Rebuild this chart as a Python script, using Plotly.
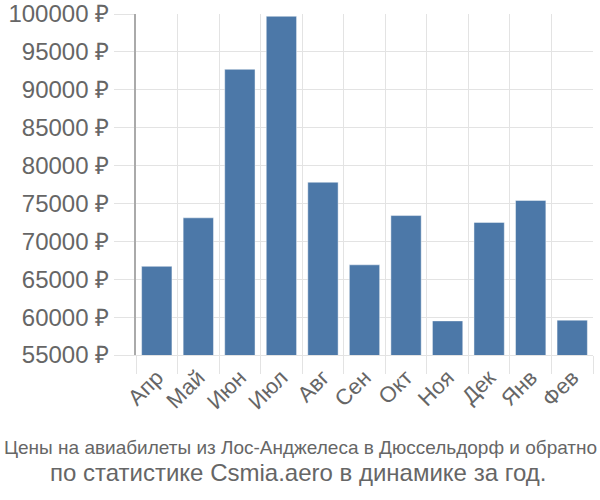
import plotly.graph_objects as go

months = ["Апр", "Май", "Июн", "Июл", "Авг", "Сен", "Окт", "Ноя", "Дек", "Янв", "Фев"]
prices = [66700, 73100, 92700, 99700, 77800, 66900, 73400, 59500, 72500, 75400, 59600]
y_ticks = [55000, 60000, 65000, 70000, 75000, 80000, 85000, 90000, 95000, 100000]
y_tick_labels = [f"{v} ₽" for v in y_ticks]
title_line1 = "Цены на авиабилеты из Лос-Анджелеса в Дюссельдорф и обратно"
title_line2 = "по статистике Csmia.aero в динамике за год."

W, H = 600, 500
ML, MR, MT, MB = 136, 7, 14, 145
plot_w = W - ML - MR
plot_h = H - MT - MB


def px_to_paper_x(px):
    return (px - ML) / plot_w


def px_to_paper_y(py):
    return (H - MB - py) / plot_h


fig = go.Figure()
fig.add_trace(go.Bar(
    x=months, y=prices,
    marker=dict(color="#4c78a8", line=dict(color="rgba(255,255,255,0.45)", width=1)),
    hoverinfo="x+y",
))

fig.update_layout(
    width=W, height=H,
    margin=dict(l=ML, r=MR, t=MT, b=MB, autoexpand=False),
    paper_bgcolor="white", plot_bgcolor="white",
    bargap=0.27,
    showlegend=False,
    font=dict(family="Liberation Sans, Arial, sans-serif", color="#666666"),
    annotations=[
        dict(text=title_line1, x=px_to_paper_x(300), xref="paper",
             y=px_to_paper_y(447), yref="paper", yanchor="middle", xanchor="center",
             showarrow=False, font=dict(size=19, color="#666666")),
        dict(text=title_line2, x=px_to_paper_x(298), xref="paper",
             y=px_to_paper_y(472), yref="paper", yanchor="middle", xanchor="center",
             showarrow=False, font=dict(size=24, color="#666666")),
    ],
)

fig.update_xaxes(
    type="category", tickangle=-45, tickson="boundaries", automargin=False,
    showgrid=True, gridcolor="#e3e3e3", gridwidth=1,
    ticks="outside", ticklen=18, tickcolor="#e3e3e3",
    showline=True, linecolor="#e3e3e3", linewidth=1,
    tickfont=dict(size=22, color="#666666"),
    range=[-0.5, 10.5],
)
fig.update_yaxes(
    range=[55000, 100000], tickvals=y_ticks, ticktext=y_tick_labels, automargin=False,
    showgrid=True, gridcolor="#e3e3e3", gridwidth=1,
    ticks="outside", ticklen=20, tickcolor="#e3e3e3",
    showline=True, linecolor="#aaaaaa", linewidth=2,
    tickfont=dict(size=24, color="#666666"),
    zeroline=False,
)

fig.write_html(
    "out.html",
    config={"displayModeBar": False},
    post_script="document.body.style.margin='0';document.body.style.padding='0';",
)
